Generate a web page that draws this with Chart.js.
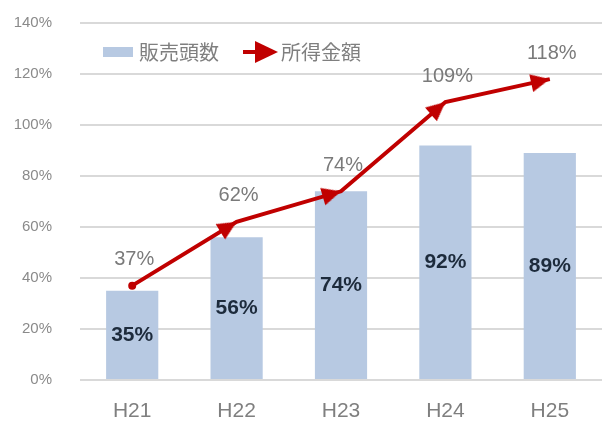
<!DOCTYPE html>
<html>
<head>
<meta charset="utf-8">
<script src="https://cdn.jsdelivr.net/npm/chart.js@4.4.1/dist/chart.umd.min.js"></script>
<style>
  html,body{margin:0;padding:0;background:#fff;overflow:hidden;}
  #wrap{width:612px;height:423px;}
</style>
</head>
<body>
<div id="wrap"><canvas id="c" width="612" height="423"></canvas></div>
<script>
const YEARS   = ['H21', 'H22', 'H23', 'H24', 'H25'];
const SALES   = [35, 56, 74, 92, 89];     // 販売頭数
const INCOME  = [37, 62, 74, 109, 118];   // 所得金額
const Y_TICKS = [0, 20, 40, 60, 80, 100, 120, 140];

const BAR_COLOR  = '#b7c9e2';
const LINE_COLOR = '#c00000';
const SANS = '"Liberation Sans", Arial, sans-serif';
const CJK  = '"Noto Sans CJK JP", sans-serif';

function el(id){return document.getElementById(id);}

// arrow head whose tip is at the centre of the image, pointing up
function arrowHead(){
  const c=document.createElement('canvas'); c.width=40; c.height=40;
  const g=c.getContext('2d');
  g.fillStyle=LINE_COLOR;
  g.beginPath(); g.moveTo(20,20); g.lineTo(11,39); g.lineTo(29,39); g.closePath(); g.fill();
  return c;
}
const HEAD = arrowHead();

// arrow head direction along each segment
function segRotation(ctx){
  const i=ctx.dataIndex;
  if(i==null||i===0) return 0;
  const xs=ctx.chart.scales.x, ys=ctx.chart.scales.y;
  const dx=xs.getPixelForValue(i)-xs.getPixelForValue(i-1);
  const dy=ys.getPixelForValue(INCOME[i])-ys.getPixelForValue(INCOME[i-1]);
  return Math.atan2(dy,dx)*180/Math.PI+90;
}

// legend drawn inside the plot, top left
const insideLegend = {
  id:'insideLegend',
  afterDraw(chart){
    const g=chart.ctx, a=chart.chartArea;
    const ds=chart.data.datasets;
    let x=a.left+23; const y=a.top+29;
    g.save();
    g.font='20px '+CJK; g.textBaseline='middle';
    // bar item
    g.fillStyle=ds[0].backgroundColor;
    g.fillRect(x, y-5, 30, 10);
    x+=36;
    g.fillStyle='#7f7f7f'; g.fillText(ds[0].label, x, y);
    x+=g.measureText(ds[0].label).width+24;
    // line item with arrow
    g.strokeStyle=ds[1].borderColor; g.lineWidth=4;
    g.beginPath(); g.moveTo(x, y); g.lineTo(x+16, y); g.stroke();
    g.fillStyle=ds[1].borderColor;
    g.beginPath(); g.moveTo(x+12, y-11); g.lineTo(x+35, y); g.lineTo(x+12, y+11); g.closePath(); g.fill();
    x+=38;
    g.fillStyle='#7f7f7f'; g.fillText(ds[1].label, x, y);
    g.restore();
  }
};

// value labels
const valueLabels = {
  id:'valueLabels',
  afterDatasetsDraw(chart){
    const g=chart.ctx;
    g.save();
    g.textAlign='center'; g.textBaseline='middle';
    chart.getDatasetMeta(0).data.forEach((b,i)=>{
      g.font='bold 21px '+SANS;
      g.fillStyle='#1d2b3c';
      g.fillText(SALES[i]+'%', b.x, (b.y+b.base)/2);
    });
    chart.getDatasetMeta(1).data.forEach((p,i)=>{
      g.font='20px '+SANS;
      g.fillStyle='#7a7a7a';
      g.fillText(INCOME[i]+'%', p.x+2, p.y-26);
    });
    g.restore();
  }
};

new Chart(el('c').getContext('2d'), {
  data:{
    labels:YEARS,
    datasets:[
      {type:'bar', label:'販売頭数', data:SALES, backgroundColor:BAR_COLOR, borderWidth:0,
       barPercentage:0.5, categoryPercentage:1.0, order:1},
      {type:'line', label:'所得金額', data:INCOME, borderColor:LINE_COLOR, backgroundColor:LINE_COLOR,
       borderWidth:4, tension:0, fill:false, order:0,
       pointStyle:ctx=>ctx.dataIndex===0?'circle':HEAD,
       pointRadius:ctx=>ctx.dataIndex===0?4:10,
       pointRotation:segRotation,
       pointBorderWidth:0, pointBackgroundColor:LINE_COLOR}
    ]
  },
  options:{
    responsive:false,
    animation:false,
    layout:{padding:{top:23,right:2,left:0,bottom:0}},
    plugins:{
      tooltip:{enabled:false},
      legend:{display:false}
    },
    scales:{
      x:{
        grid:{display:false, drawTicks:false},
        border:{display:false},
        ticks:{color:'#7f7f7f', padding:19, font:{size:21, family:SANS}},
        afterFit(s){s.height=43;}
      },
      y:{
        min:0, max:140,
        afterBuildTicks(s){s.ticks=Y_TICKS.map(v=>({value:v}));},
        grid:{color:'#d9d9d9', lineWidth:2, drawTicks:false},
        border:{display:false},
        ticks:{color:'#8a8a8a', padding:28, font:{size:15, family:SANS}, callback:v=>v+'%'},
        afterFit(s){s.width=80; s.paddingTop=10; s.paddingBottom=10;}
      }
    }
  },
  plugins:[insideLegend, valueLabels]
});
</script>
</body>
</html>
